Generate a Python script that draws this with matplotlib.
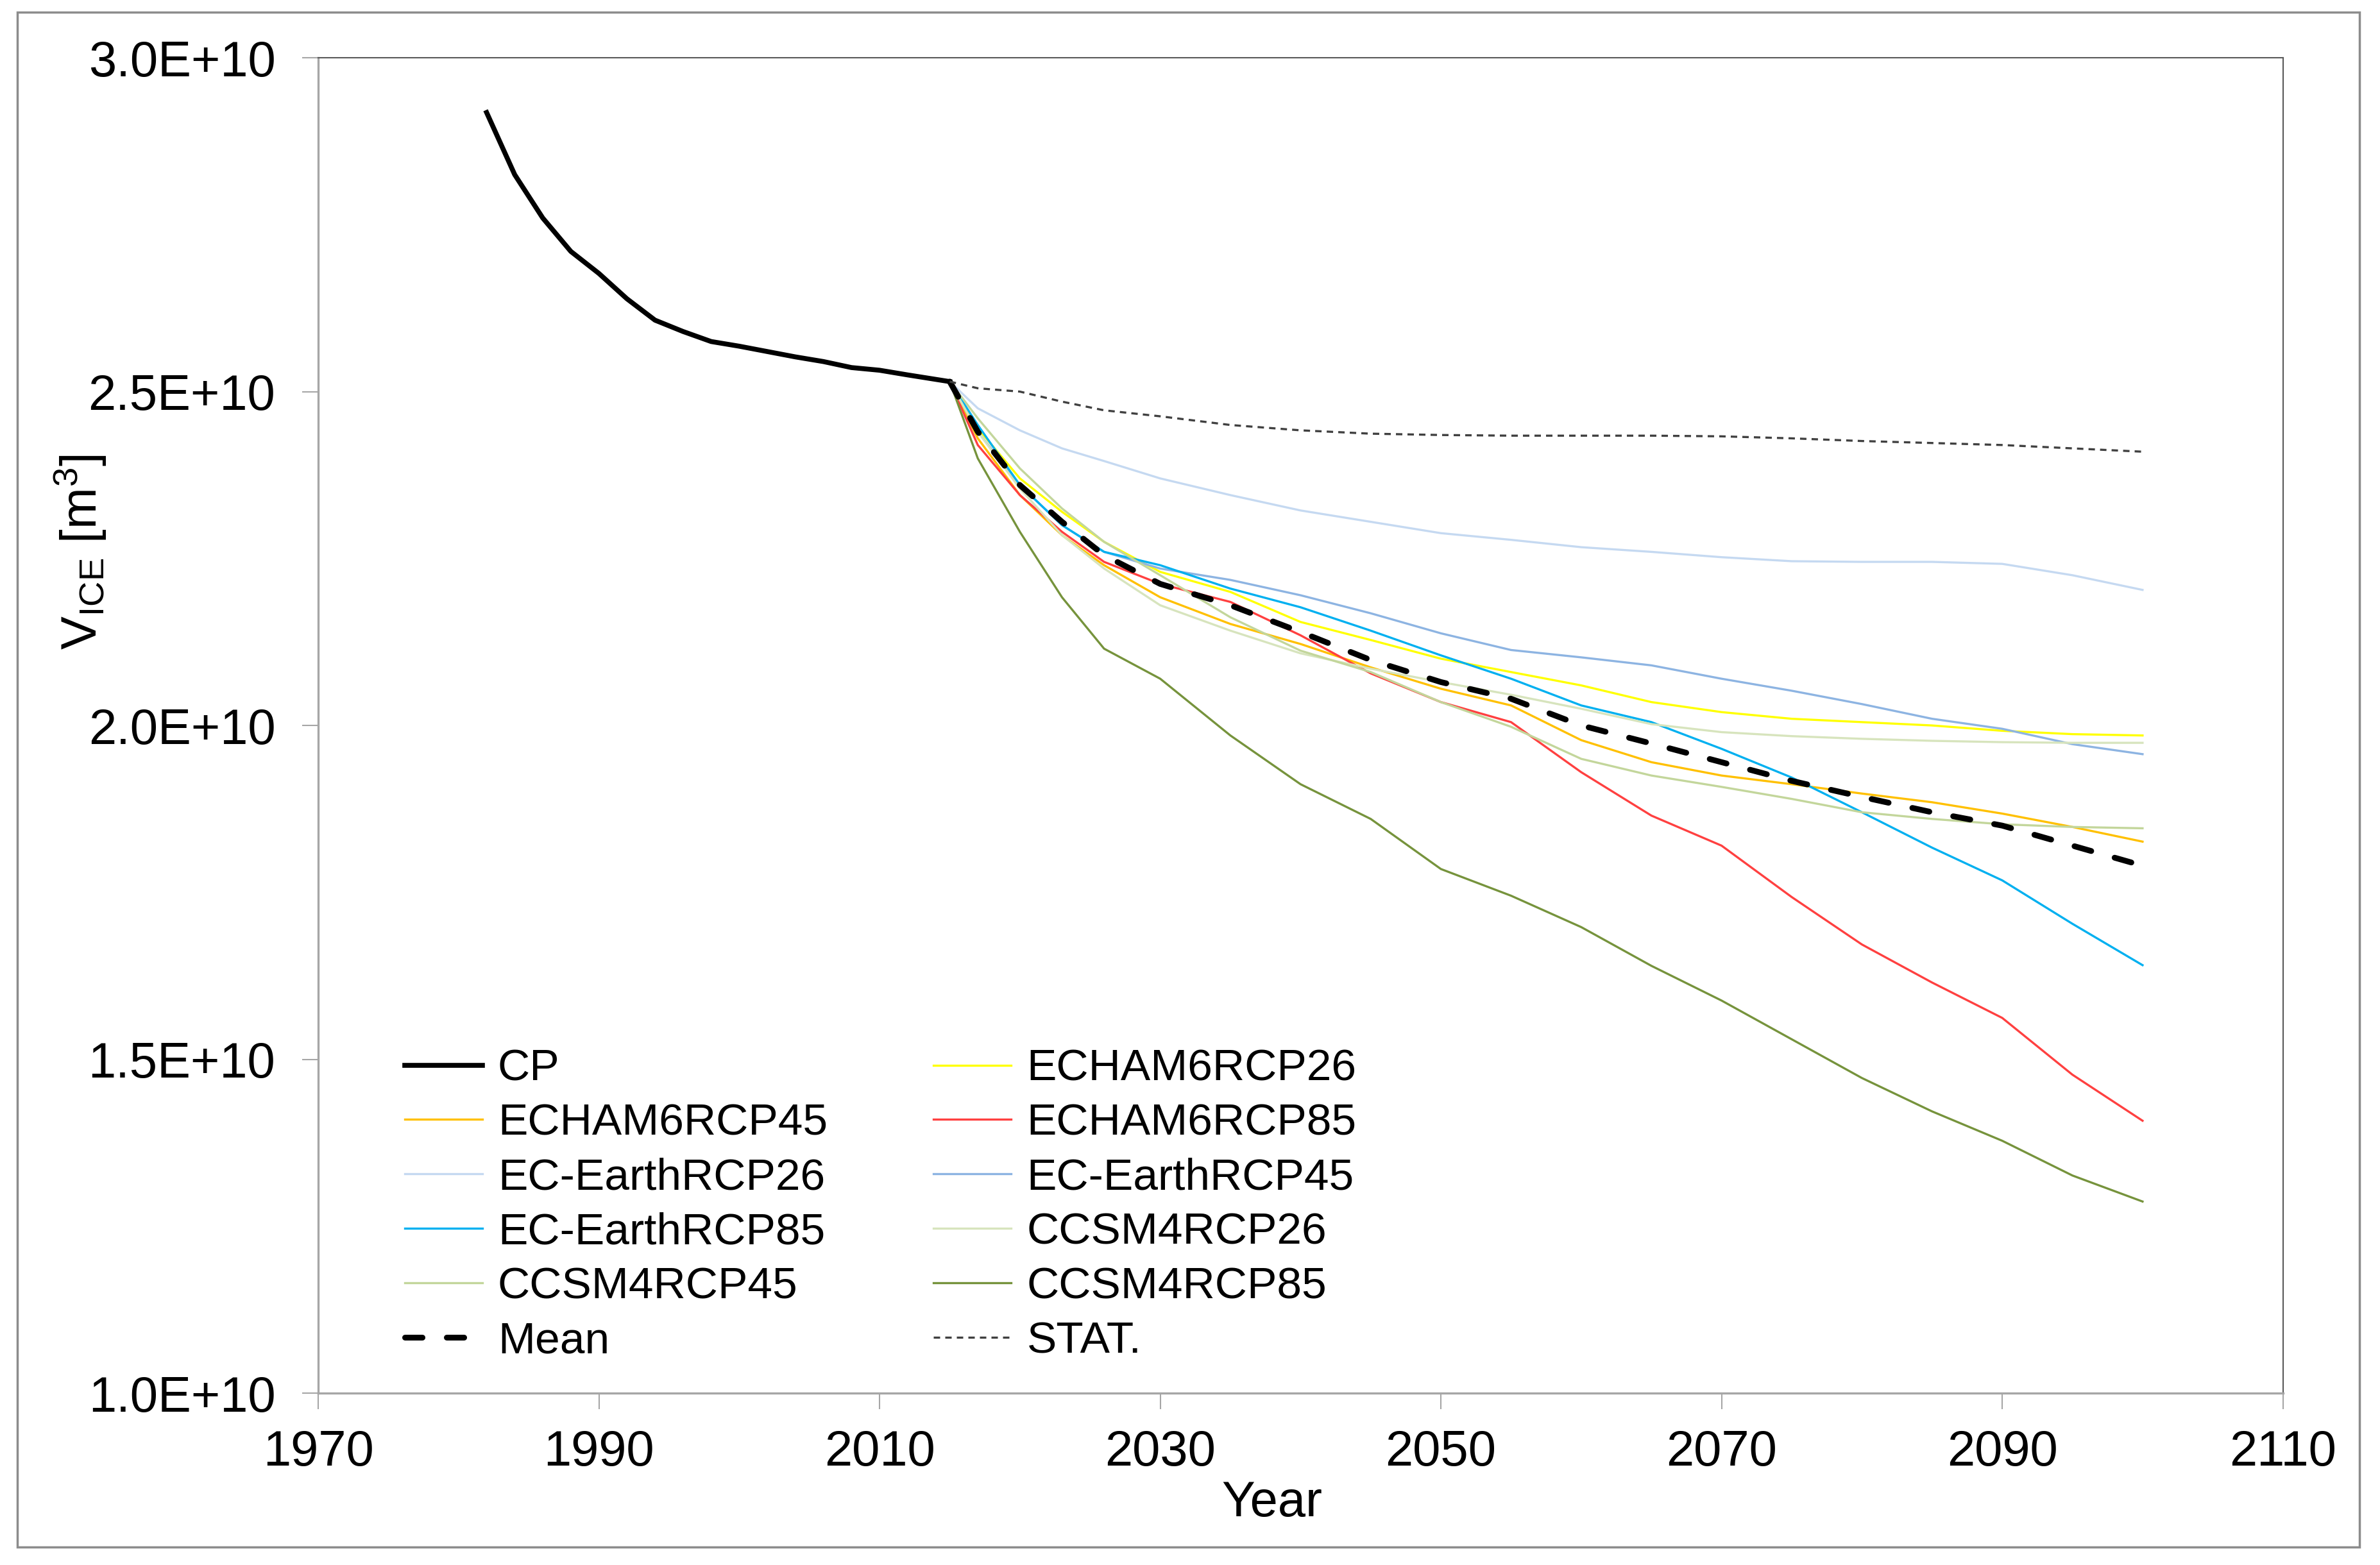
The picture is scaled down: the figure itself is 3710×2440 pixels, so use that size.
import numpy as np
import matplotlib
matplotlib.use('Agg')
import matplotlib.pyplot as plt
from matplotlib.ticker import FuncFormatter, FixedLocator, MultipleLocator
from matplotlib.patches import Rectangle

plt.rcParams['font.family'] = ['Liberation Sans', 'DejaVu Sans']
plt.rcParams['mathtext.fontset'] = 'custom'
plt.rcParams['mathtext.rm'] = 'Liberation Sans'
plt.rcParams['mathtext.it'] = 'Liberation Sans:italic'

# ice volume, units of 1e9 m3
cp_years = [1982, 1984, 1986, 1988, 1990, 1992, 1994, 1996, 1998, 2000,
            2002, 2004, 2006, 2008, 2010, 2012, 2015]
cp_vals = [29.18, 28.25, 27.6, 27.1, 26.77, 26.39, 26.07, 25.9, 25.75, 25.68,
           25.6, 25.52, 25.45, 25.36, 25.32, 25.25, 25.15]

years = [2015, 2017, 2020, 2023, 2026, 2030, 2035, 2040, 2045, 2050,
         2055, 2060, 2065, 2070, 2075, 2080, 2085, 2090, 2095, 2100]

echam26 = [25.15, 24.45, 23.7, 23.2, 22.75, 22.3, 22.0, 21.55, 21.28, 21.0,
           20.8, 20.6, 20.35, 20.2, 20.1, 20.05, 20.0, 19.92, 19.87, 19.85]
echam45 = [25.15, 24.3, 23.45, 22.85, 22.4, 21.92, 21.52, 21.22, 20.87, 20.55,
           20.3, 19.78, 19.45, 19.25, 19.12, 18.98, 18.85, 18.68, 18.48, 18.26]
echam85 = [25.15, 24.2, 23.45, 22.9, 22.45, 22.12, 21.85, 21.35, 20.78, 20.35,
           20.05, 19.3, 18.65, 18.2, 17.43, 16.72, 16.15, 15.62, 14.77, 14.08]
ec26 = [25.15, 24.75, 24.42, 24.15, 23.96, 23.7, 23.45, 23.22, 23.05, 22.88,
        22.78, 22.67, 22.6, 22.52, 22.46, 22.45, 22.45, 22.42, 22.25, 22.03]
ec45 = [25.15, 24.4, 23.6, 23.0, 22.6, 22.35, 22.18, 21.95, 21.68, 21.38,
        21.13, 21.02, 20.9, 20.7, 20.52, 20.32, 20.1, 19.95, 19.72, 19.57]
ec85 = [25.15, 24.5, 23.6, 23.0, 22.6, 22.4, 22.05, 21.77, 21.42, 21.05,
        20.7, 20.3, 20.05, 19.65, 19.22, 18.7, 18.17, 17.68, 17.03, 16.41]
ccsm26 = [25.15, 24.4, 23.55, 22.85, 22.35, 21.8, 21.42, 21.08, 20.85, 20.65,
          20.46, 20.25, 20.02, 19.9, 19.84, 19.8, 19.77, 19.75, 19.74, 19.74]
ccsm45 = [25.15, 24.6, 23.85, 23.25, 22.75, 22.25, 21.62, 21.12, 20.8, 20.35,
          19.98, 19.5, 19.25, 19.08, 18.9, 18.7, 18.6, 18.52, 18.48, 18.46]
ccsm85 = [25.15, 24.0, 22.9, 21.92, 21.15, 20.7, 19.85, 19.12, 18.6, 17.85,
          17.45, 16.98, 16.4, 15.88, 15.3, 14.72, 14.22, 13.78, 13.26, 12.87]
mean = [25.15, 24.4, 23.6, 23.05, 22.55, 22.12, 21.8, 21.4, 20.98, 20.65,
        20.4, 20.0, 19.73, 19.45, 19.17, 18.93, 18.7, 18.5, 18.2, 17.9]
stat = [25.15, 25.05, 25.0, 24.85, 24.72, 24.63, 24.5, 24.42, 24.37, 24.35,
        24.34, 24.34, 24.34, 24.33, 24.3, 24.26, 24.23, 24.2, 24.15, 24.1]

xticks = [1970, 1990, 2010, 2030, 2050, 2070, 2090, 2110]

fig = plt.figure(figsize=(37.1, 24.4), dpi=100)
ax = fig.add_axes([0.1337, 0.1098, 0.8255, 0.8533])

s = 1e9
thin = 2.4
hCP, = ax.plot(cp_years, np.array(cp_vals) * s, color='black', lw=5.5, label='CP')
h26, = ax.plot(years, np.array(echam26) * s, color='#FFFF00', lw=thin, label='ECHAM6RCP26')
h45, = ax.plot(years, np.array(echam45) * s, color='#FFC000', lw=thin, label='ECHAM6RCP45')
h85, = ax.plot(years, np.array(echam85) * s, color='#FF4040', lw=thin, label='ECHAM6RCP85')
e26, = ax.plot(years, np.array(ec26) * s, color='#C5D9F1', lw=thin, label='EC-EarthRCP26')
e45, = ax.plot(years, np.array(ec45) * s, color='#8DB4E2', lw=thin, label='EC-EarthRCP45')
e85, = ax.plot(years, np.array(ec85) * s, color='#00B0F0', lw=thin, label='EC-EarthRCP85')
c26, = ax.plot(years, np.array(ccsm26) * s, color='#D7E4BD', lw=thin, label='CCSM4RCP26')
c45, = ax.plot(years, np.array(ccsm45) * s, color='#C3D69B', lw=thin, label='CCSM4RCP45')
c85, = ax.plot(years, np.array(ccsm85) * s, color='#76933C', lw=thin, label='CCSM4RCP85')
hM, = ax.plot(years, np.array(mean) * s, color='black', lw=6.5, dashes=(3, 4.2),
              dash_capstyle='round', label='Mean')
hS, = ax.plot(years, np.array(stat) * s, color='#404040', lw=2.4, dashes=(3, 2.4),
              label='STAT.')

ax.set_xlim(1970, 2110)
ax.set_ylim(1.0e10, 3.0e10)
ax.xaxis.set_major_locator(FixedLocator(xticks))
ax.yaxis.set_major_locator(MultipleLocator(0.5e10))
ax.yaxis.set_major_formatter(FuncFormatter(lambda v, p: '%.1fE+10' % (v / 1e10)))

ax.tick_params(axis='both', direction='out', length=18, width=1.5, color='#a6a6a6',
               labelsize=56, pad=22)
ax.tick_params(axis='y', pad=30)
for side in ['left', 'bottom']:
    ax.spines[side].set_color('#a6a6a6')
    ax.spines[side].set_linewidth(2.4)
for side in ['top', 'right']:
    ax.spines[side].set_color('#595959')
    ax.spines[side].set_linewidth(1.5)

ax.set_xlabel('Year', fontsize=56)
ax.set_ylabel(r'V$_{\mathrm{ICE}}$ [m$^3$]', fontsize=56)
ax.xaxis.set_label_coords(0.4856, -0.065)
ax.yaxis.set_label_coords(-0.1067, 0.63)

handles = [hCP, h45, e26, e85, c45, hM, h26, h85, e45, c26, c85, hS]
ax.legend(handles=handles, labels=[h.get_label() for h in handles], ncol=2,
          loc='upper left', bbox_to_anchor=(0.044, 0.258), frameon=False,
          fontsize=50, handlelength=1.74, handletextpad=0.35, columnspacing=2.38,
          labelspacing=0.30, borderpad=0, borderaxespad=0)

# chart area frame
fig.patches.append(Rectangle((27 / 3710, 1 - 2412 / 2440), (3678 - 27) / 3710,
                             (2412 - 19) / 2440, transform=fig.transFigure,
                             fill=False, edgecolor='#8c8c8c', lw=2.5))

fig.savefig('out.png', dpi=100)
